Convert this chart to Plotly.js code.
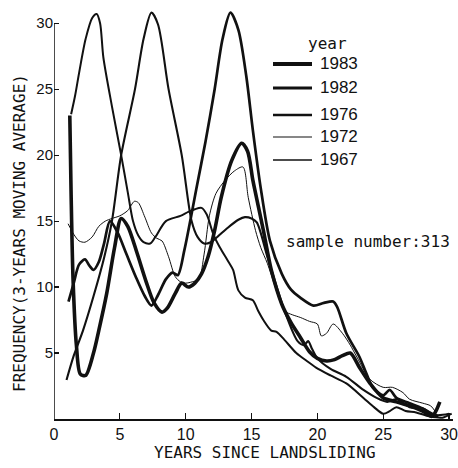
<!DOCTYPE html>
<html>
<head>
<meta charset="utf-8">
<script src="https://cdn.plot.ly/plotly-3.0.1.min.js"></script>
<style>
html,body{margin:0;padding:0;background:#fff;}
#chart{width:458px;height:468px;}
</style>
</head>
<body>
<div id="chart"></div>
<script>
// ---- data ----
const years = ["1983", "1982", "1976", "1972", "1967"];

const x1983 = [1.2, 1.3, 1.45, 1.7, 2.0, 2.4, 3.0, 3.4, 4.0, 4.6, 5.1, 5.6, 6.3, 7.0, 7.6, 8.2, 8.6, 9.2, 9.7, 10.2, 10.7, 11.2, 11.7, 12.2, 12.7, 13.5, 14.25, 14.7, 15.1, 15.5, 15.9, 16.5, 17.3, 18.0, 18.7, 19.4, 20.0, 20.7, 21.3, 21.9, 22.5, 23.2, 24.0, 25.0, 26.0, 27.0, 28.0, 28.7, 29.0, 29.3];
const y1983 = [23.0, 17.0, 10.5, 5.6, 3.4, 3.3, 5.0, 6.7, 9.5, 13.0, 15.2, 14.6, 12.6, 10.4, 8.8, 8.1, 8.4, 9.5, 10.3, 10.0, 10.3, 11.0, 12.3, 14.3, 16.8, 19.6, 20.9, 20.3, 18.1, 16.2, 14.3, 11.3, 8.7, 7.3, 6.2, 5.1, 4.6, 4.4, 4.5, 4.8, 5.0, 3.9, 2.7, 1.6, 1.3, 1.0, 0.6, 0.2, 0.6, 1.3];

const x1982 = [1.1, 1.5, 1.9, 2.35, 2.7, 3.0, 3.4, 3.8, 4.25, 4.8, 5.5, 6.2, 6.9, 7.4, 7.9, 8.5, 9.0, 9.4, 9.9, 10.4, 10.8, 11.5, 12.2, 12.8, 13.4, 14.0, 14.6, 15.1, 15.7, 16.4, 17.3, 18.0, 18.7, 19.7, 20.5, 21.2, 21.5, 22.2, 23.2, 23.7, 24.2, 25.0, 25.5, 26.0, 27.0, 28.0, 28.8, 29.2];
const y1982 = [8.9, 10.3, 11.7, 12.1, 11.6, 11.3, 11.9, 13.3, 15.0, 14.2, 12.5, 10.8, 9.3, 8.6, 9.4, 10.6, 11.1, 10.9, 12.8, 15.3, 17.4, 21.0, 25.0, 28.8, 30.8, 29.5, 26.0, 21.9, 17.5, 13.5, 11.0, 9.8, 9.2, 8.6, 8.8, 8.9, 8.5, 6.5, 4.7, 3.5, 2.4, 1.8, 2.2, 1.6, 1.2, 0.8, 0.3, 0.2];

const x1976 = [0.95, 1.5, 2.2, 3.0, 3.8, 4.4, 5.1, 6.15, 6.8, 7.4, 7.9, 8.7, 9.7, 10.45, 10.9, 11.4, 11.9, 12.4, 13.2, 14.0, 14.5, 15.0, 15.4, 16.2, 17.0, 17.5, 18.5, 19.0, 19.3, 19.6, 20.0, 21.0, 22.2, 23.5, 24.5, 25.3, 26.0, 27.0, 28.0, 29.0, 30.0];
const y1976 = [2.95, 4.8, 6.7, 9.3, 12.2, 15.0, 20.0, 25.0, 28.8, 30.8, 29.9, 25.0, 20.0, 15.0, 13.8, 13.3, 13.4, 13.8, 14.5, 15.1, 15.3, 15.2, 14.9, 12.3, 9.75, 8.2, 5.9, 5.6, 5.9, 5.3, 4.6, 3.8, 3.2, 2.2, 1.6, 1.3, 1.5, 0.9, 0.8, 0.3, 0.4];

const x1972 = [1.3, 1.6, 1.9, 2.4, 2.9, 3.24, 3.5, 3.75, 4.4, 5.1, 5.6, 6.0, 6.4, 6.8, 7.3, 7.7, 8.5, 9.6, 10.2, 10.7, 11.2, 11.6, 12.1, 12.6, 13.2, 13.6, 14.0, 14.5, 15.1, 15.5, 15.9, 16.5, 16.9, 17.5, 18.4, 19.2, 19.9, 21.0, 22.2, 23.5, 24.3, 25.0, 25.5, 26.0, 26.7, 27.5, 28.5, 29.5, 30.2];
const y1972 = [23.1, 24.5, 26.2, 28.8, 30.4, 30.7, 30.0, 27.4, 23.7, 20.0, 17.2, 15.0, 13.9, 13.4, 13.3, 13.8, 15.0, 15.4, 15.7, 15.9, 16.0, 15.5, 14.0, 13.0, 12.0, 11.3, 9.75, 9.2, 9.0, 8.2, 7.5, 6.7, 6.6, 6.0, 5.0, 4.4, 3.9, 3.3, 2.7, 1.6, 0.9, 0.4, 0.6, 0.9, 0.6, 0.5, 0.2, 0.1, 0.4];

const x1967 = [1.07, 1.5, 1.9, 2.35, 2.9, 3.4, 3.9, 4.4, 5.0, 5.6, 6.1, 6.4, 6.9, 7.4, 7.8, 8.2, 8.7, 9.2, 9.6, 10.0, 10.5, 11.0, 11.4, 11.8, 12.3, 13.0, 13.7, 14.35, 14.75, 15.3, 15.7, 16.2, 16.8, 17.5, 18.1, 18.7, 19.4, 20.0, 20.3, 20.7, 21.2, 21.9, 22.5, 23.0, 24.0, 25.0, 25.7, 26.5, 27.0, 28.0, 28.6, 29.0];
const y1967 = [14.8, 14.0, 13.5, 13.4, 13.8, 14.6, 15.0, 15.2, 15.4, 15.8, 16.5, 16.4, 15.3, 14.1, 13.7, 13.5, 12.3, 10.8, 10.4, 10.3, 10.4, 10.6, 12.5, 15.4, 17.1, 18.1, 18.8, 19.1, 16.8, 14.3, 13.0, 11.8, 10.0, 8.2, 7.9, 7.7, 7.4, 7.2, 6.3, 6.5, 7.2, 6.5, 5.6, 4.7, 3.0, 2.4, 2.4, 2.0, 1.5, 1.2, 1.0, 0.5];

const xTicks = [0, 5, 10, 15, 20, 25, 30];
const yTicks = [5, 10, 15, 20, 25, 30];

// ---- styles ----
const widths = {"1983": 3.6, "1982": 2.7, "1976": 2.1, "1972": 2.0, "1967": 1.0};
const legendWidths = {"1983": 4, "1982": 3, "1976": 2.5, "1972": 1.2, "1967": 1.6};
const ink = "#111";
const mono = "DejaVu Sans Mono, Liberation Mono, monospace";
const sans = "Liberation Sans, Arial, sans-serif";

const series = {
  "1983": [x1983, y1983],
  "1982": [x1982, y1982],
  "1976": [x1976, y1976],
  "1972": [x1972, y1972],
  "1967": [x1967, y1967]
};

const traces = years.map(yr => ({
  type: "scatter", mode: "lines", name: yr,
  x: series[yr][0], y: series[yr][1],
  line: {color: ink, width: widths[yr], shape: "spline", smoothing: 0.8},
  showlegend: false, hoverinfo: "skip"
}));

// legend rows (layout positions in paper coords)
const legY = [0.868, 0.8093, 0.7433, 0.6895, 0.6333];
const shapes = [
  {type: "line", xref: "x", yref: "y", x0: 0, x1: 0, y0: 0, y1: 30,
   line: {color: ink, width: 1.5}}
];
const annotations = [];
years.forEach((yr, i) => {
  shapes.push({type: "line", xref: "paper", yref: "paper",
    x0: 0.5489, x1: 0.6466, y0: legY[i], y1: legY[i],
    line: {color: ink, width: legendWidths[yr]}});
  annotations.push({xref: "paper", yref: "paper", x: 0.6617, y: legY[i],
    xanchor: "left", yanchor: "middle", showarrow: false, text: yr,
    font: {family: sans, size: 17, color: ink}});
});
annotations.push({xref: "paper", yref: "paper", x: 0.6867, y: 0.9193,
  xanchor: "center", yanchor: "middle", showarrow: false, text: "year",
  font: {family: mono, size: 16, color: ink}});
annotations.push({xref: "paper", yref: "paper", x: 0.787, y: 0.4328,
  xanchor: "center", yanchor: "middle", showarrow: false, text: "sample number:313",
  font: {family: mono, size: 16, color: ink}});
annotations.push({xref: "paper", yref: "paper", x: 0.5288, y: -0.0807,
  xanchor: "center", yanchor: "middle", showarrow: false, text: "YEARS SINCE LANDSLIDING",
  font: {family: mono, size: 16, color: ink}});
annotations.push({xref: "paper", yref: "paper", x: -0.0852, y: 0.4548,
  xanchor: "center", yanchor: "middle", showarrow: false, textangle: -90,
  text: "FREQUENCY(3-YEARS MOVING AVERAGE)",
  font: {family: mono, size: 16, color: ink}});

const layout = {
  width: 458, height: 468,
  margin: {l: 54, r: 5, t: 10, b: 49, pad: 0},
  paper_bgcolor: "#fff", plot_bgcolor: "#fff",
  showlegend: false,
  xaxis: {
    range: [0, 30.3], tickvals: xTicks, ticktext: xTicks.map(String),
    ticks: "inside", ticklen: 6, tickwidth: 1.2, tickcolor: ink,
    ticklabeloverflow: "allow",
    showline: true, linecolor: ink, linewidth: 1.5,
    showgrid: false, zeroline: false, fixedrange: true,
    tickfont: {family: sans, size: 16, color: ink}
  },
  yaxis: {
    range: [0, 31], tickvals: yTicks, ticktext: yTicks.map(String),
    ticks: "inside", ticklen: 5, tickwidth: 1.2, tickcolor: ink,
    showline: false, showgrid: false, zeroline: false, fixedrange: true,
    tickfont: {family: sans, size: 15, color: ink}
  },
  shapes: shapes,
  annotations: annotations
};

Plotly.newPlot("chart", traces, layout, {staticPlot: true, displayModeBar: false});
</script>
</body>
</html>
